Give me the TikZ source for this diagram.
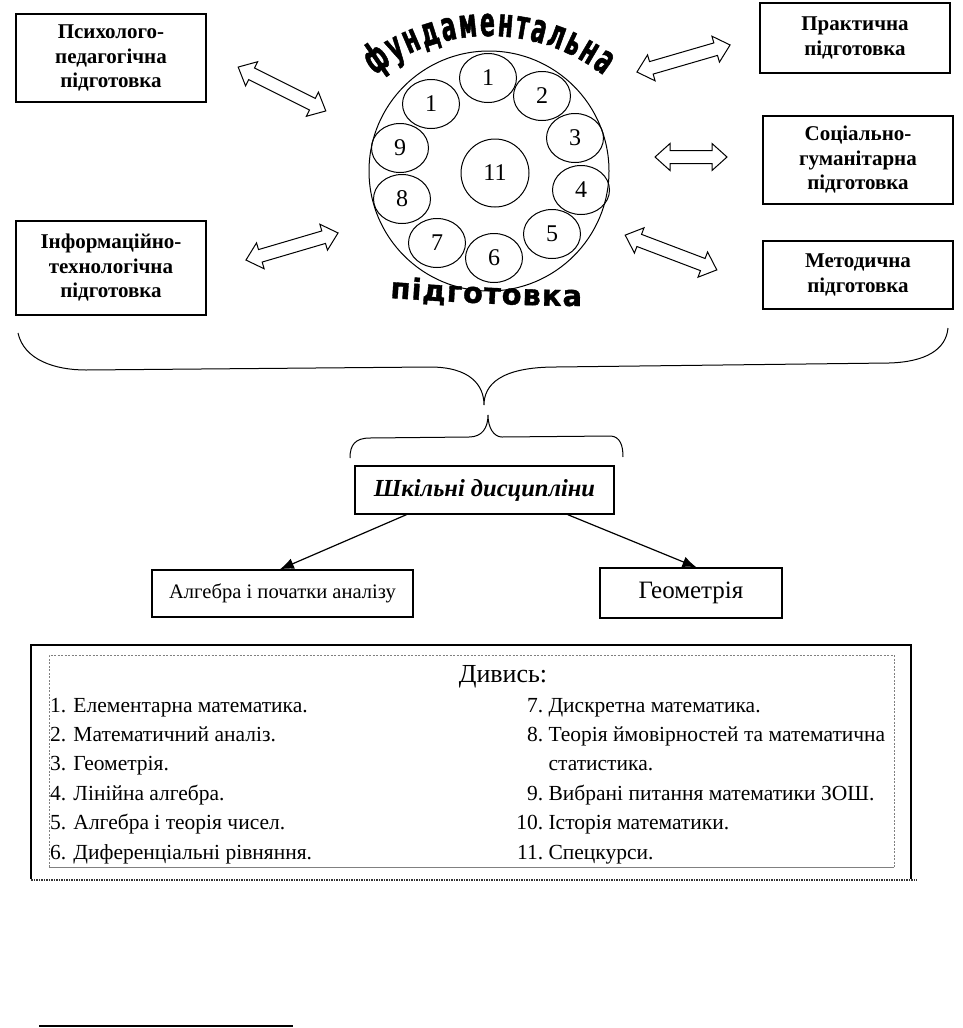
\documentclass[tikz,border=0pt]{standalone}
\usepackage{fontspec}
\setmainfont{Liberation Serif}
\newfontfamily\wafont[FakeStretch=0.55,FakeBold=1.2]{DejaVu Sans}
\newfontfamily\wbfont[FakeBold=1.2]{DejaVu Sans}
\usetikzlibrary{shapes.geometric,arrows.meta,calc,decorations.text}
\begin{document}
\begin{tikzpicture}[x=1pt,y=-1pt,
  box/.style={draw,line width=1.4pt,align=center,inner sep=0pt,
    font=\fontsize{21}{24.5}\selectfont\bfseries},
  pbox/.style={draw,line width=1.4pt,align=center,inner sep=0pt},
  sc/.style={ellipse,draw,line width=1pt,minimum width=57pt,minimum height=49pt,inner sep=0pt,
    font=\fontsize{24}{24}\selectfont},
  pics/dblarr/.style={code={
    \draw[line width=1pt,fill=white] (-#1,0) -- ({-#1+15},-13.5) -- ({-#1+15},-6.5)
      -- ({#1-15},-6.5) -- ({#1-15},-13.5) -- (#1,0) -- ({#1-15},13.5) -- ({#1-15},6.5)
      -- ({-#1+15},6.5) -- ({-#1+15},13.5) -- cycle;}},
  item/.style={anchor=base west,inner sep=0pt,font=\fontsize{21.5}{21.5}\selectfont},
  conn/.style={line width=1.2pt,-{Latex[length=14pt,width=11pt]}},
  brace/.style={line width=1pt}]
\useasboundingbox (0,0) rectangle (962,1028);

% side boxes
\node[box,minimum width=190pt,minimum height=88pt] (psy) at (111,58) {Психолого-\\педагогічна\\підготовка};
\node[box,minimum width=190pt,minimum height=94pt] (inf) at (111,268) {Інформаційно-\\технологічна\\підготовка};
\node[box,minimum width=190pt,minimum height=70pt] (prak) at (855,38) {Практична\\підготовка};
\node[box,minimum width=190pt,minimum height=88pt] (soc) at (858,160) {Соціально-\\гуманітарна\\підготовка};
\node[box,minimum width=190pt,minimum height=68pt] (met) at (858,275) {Методична\\підготовка};

% double arrows
\pic[rotate=-26.6] at (282,89) {dblarr=49};
\pic[rotate=16.4] at (292,246.5) {dblarr=48};
\pic[rotate=16.2] at (683.5,58.5) {dblarr=48.5};
\pic at (691,157) {dblarr=36};
\pic[rotate=-20.8] at (671,252.5) {dblarr=49};

% central circle
\node[circle,draw,line width=1pt,minimum size=240pt,inner sep=0pt] (big) at (489,171) {};
\node[sc] (c1) at (488,78) {1};
\node[sc] (c10) at (431,104) {1};
\node[sc] (c2) at (542,96) {2};
\node[sc] (c3) at (575,138) {3};
\node[sc] (c4) at (581,190) {4};
\node[sc] (c5) at (552,234) {5};
\node[sc] (c6) at (494,258) {6};
\node[sc] (c7) at (437,243) {7};
\node[sc] (c8) at (402,199) {8};
\node[sc] (c9) at (400,148) {9};
\node[circle,draw,line width=1pt,minimum size=68pt,inner sep=0pt,font=\fontsize{24}{24}\selectfont] (c11) at (495,173) {11};

% arched texts
\path[decorate,decoration={text along path,text align=fit to path,
  text={|\wafont\bfseries\fontsize{40}{40}\selectfont|фундаментальна}}]
  (489,222) ++(232:186) arc[start angle=232,end angle=308,radius=186];
\path[decorate,decoration={text along path,text align=fit to path,
  text={|\wbfont\bfseries\fontsize{29}{29}\selectfont|підготовка}}]
  (390,298) .. controls (450,302) and (520,306) .. (582,306);

% braces
\draw[brace] (18,333) .. controls (24,360) and (55,370) .. (86,370) -- (430,367)
  .. controls (470,367) and (484,385) .. (484,405)
  .. controls (484,385) and (500,367) .. (556,367) -- (889,363)
  .. controls (925,362) and (946,350) .. (948,328);
\draw[brace] (350,458) .. controls (350,445) and (355,438) .. (370,438) -- (469,437)
  .. controls (482,437) and (488,428) .. (488,415)
  .. controls (488,428) and (494,437) .. (502,437) -- (611,436)
  .. controls (620,437) and (623,445) .. (623,457);

% school disciplines
\node[pbox,minimum width=259pt,minimum height=48pt,font=\fontsize{24.5}{24.5}\selectfont\bfseries\itshape] (sk) at (484.5,490) {Шкільні дисципліни};
\node[pbox,minimum width=261pt,minimum height=47pt,font=\fontsize{20.6}{20.6}\selectfont] (alg) at (282.5,593.5) {Алгебра і початки аналізу};
\node[pbox,minimum width=182pt,minimum height=50pt,font=\fontsize{25}{25}\selectfont] (geo) at (691,593) {Геометрія};
\draw[conn] ($(sk.south west)!0.2!(sk.south east)$) -- ($(alg.north west)!0.49!(alg.north east)$);
\draw[conn] ($(sk.south west)!0.82!(sk.south east)$) -- ($(geo.north west)!0.53!(geo.north east)$);

% bottom legend box
\draw[line width=2pt] (31,879) -- (31,645) -- (911,645) -- (911,879);
\draw[line width=2pt,black!80,dash pattern=on 1.5pt off 1pt] (31,879.5) -- (917,879.5);
\draw[gray,line width=0.6pt,dash pattern=on 2pt off 1.5pt] (49,867) -- (49,655) -- (894,655) -- (894,867);
\draw[gray,line width=1pt] (49,867) -- (894,867);
\node[anchor=base,inner sep=0pt,font=\fontsize{26}{26}\selectfont] (div) at (503,682) {Дивись:};
\node[item] (l1) at (50,712) {1. Елементарна математика.};
\node[item] (l2) at (50,741.4) {2. Математичний аналіз.};
\node[item] (l3) at (50,770.8) {3. Геометрія.};
\node[item] (l4) at (50,800.2) {4. Лінійна алгебра.};
\node[item] (l5) at (50,829.6) {5. Алгебра і теорія чисел.};
\node[item] (l6) at (50,859) {6. Диференціальні рівняння.};
\node[item] (r7) at (517,712) {\makebox[26pt][r]{7.} Дискретна математика.};
\node[item] (r8) at (517,741.4) {\makebox[26pt][r]{8.} Теорія ймовірностей та математична};
\node[item] (r8b) at (517,770.8) {\makebox[26pt][r]{} статистика.};
\node[item] (r9) at (517,800.2) {\makebox[26pt][r]{9.} Вибрані питання математики ЗОШ.};
\node[item] (r10) at (517,829.6) {\makebox[26pt][r]{10.} Історія математики.};
\node[item] (r11) at (517,859) {\makebox[26pt][r]{11.} Спецкурси.};

% footnote rule
\draw[line width=2pt] (39,1026) -- (293,1026);
\end{tikzpicture}
\end{document}
